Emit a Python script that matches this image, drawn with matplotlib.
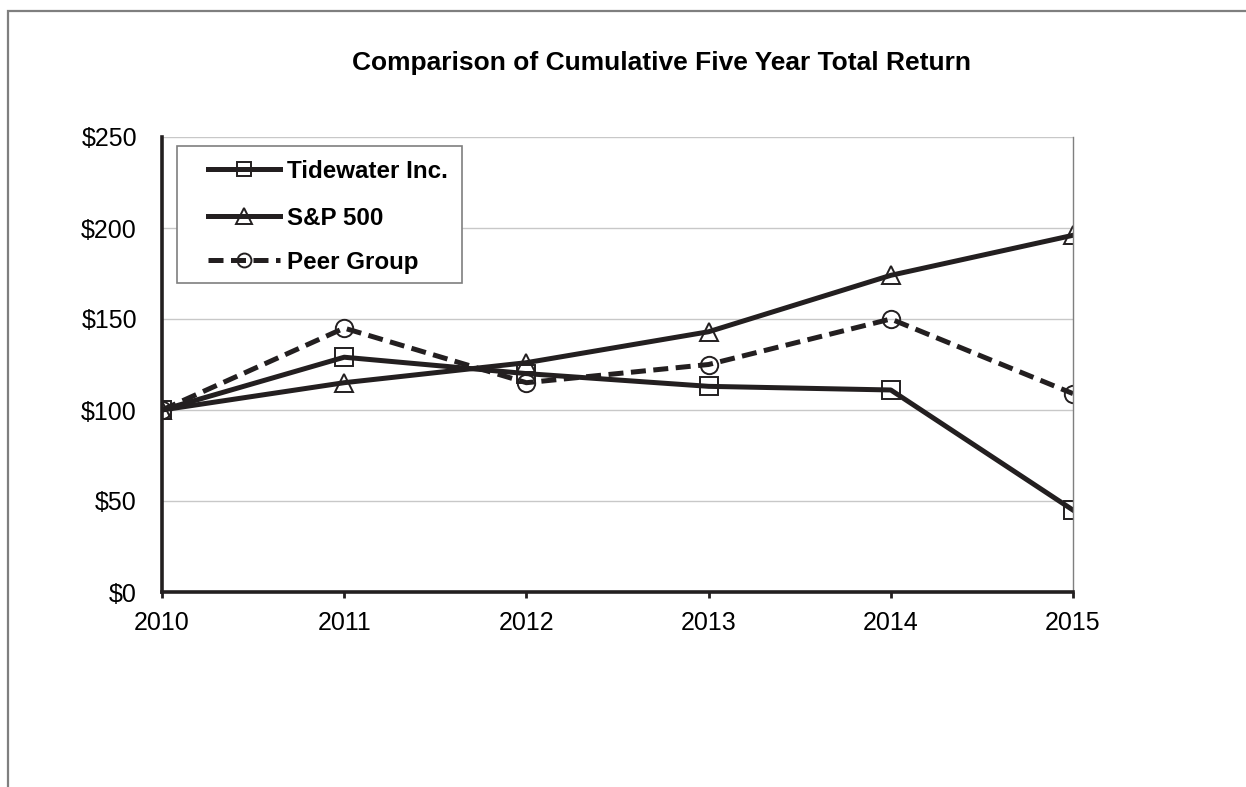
import matplotlib
matplotlib.use("Agg")
import matplotlib.pyplot as plt
from matplotlib.patches import Rectangle
from matplotlib.lines import Line2D

plt.rcParams['font.family'] = ['Liberation Sans', 'DejaVu Sans']

# data
years = [2010, 2011, 2012, 2013, 2014, 2015]
tidewater = [100, 129, 120, 113, 111, 45]
sp500 = [100, 115, 126, 143, 174, 196]
peer_group = [100, 145, 115, 125, 150, 109]
y_ticks = [0, 50, 100, 150, 200, 250]
y_labels = ['$' + str(v) for v in y_ticks]
series_names = ['Tidewater Inc.', 'S&P 500', 'Peer Group']

ink = '#231f20'
W, H = 1246.0, 787.0


def fx(px):
    return px / W


def fy(py):
    return 1 - py / H


fig = plt.figure(figsize=(12.46, 7.87), dpi=100)

# outer grey frame (only left and top visible in the reference)
fig.patches.append(Rectangle((fx(8), -0.05), 1.2, fy(11) + 0.05,
                             transform=fig.transFigure, fill=False,
                             edgecolor='#7f7f7f', linewidth=1.6))

ax = fig.add_axes([fx(162), fy(592), fx(1073) - fx(162), fy(137) - fy(592)])

styles = [dict(marker='s', ms=12.5), dict(marker='^', ms=13.5), dict(marker='o', ms=12.5, dashes=(3, 1.5))]
for vals, name, st in zip([tidewater, sp500, peer_group], series_names, styles):
    ax.plot(years, vals, color=ink, lw=3.6, mfc='none', mec=ink, mew=1.4,
            label=name, zorder=4, **st)

ax.set_xlim(2010, 2015)
ax.set_ylim(0, 250)
ax.set_xticks(years)
ax.set_xticklabels([str(y) for y in years])
ax.set_yticks(y_ticks)
ax.set_yticklabels(y_labels)
ax.yaxis.grid(True, color='#c8c8c8', lw=1)
ax.set_axisbelow(True)

ax.tick_params(axis='x', direction='out', length=4, width=2, color=ink,
               labelsize=18, pad=10)
ax.tick_params(axis='y', length=0, labelsize=18, pad=18)

ax.spines['top'].set_visible(False)
ax.spines['right'].set_color('#7f7f7f')
ax.spines['right'].set_linewidth(1)
for side in ['left', 'bottom']:
    ax.spines[side].set_color(ink)
    ax.spines[side].set_linewidth(2.6)
for s in ax.spines.values():
    s.set_zorder(5)

fig.text(fx(662), fy(70), 'Comparison of Cumulative Five Year Total Return',
         ha='center', va='baseline', fontsize=19, fontweight='bold')

# legend drawn by hand so the box matches the reference
fig.patches.append(Rectangle((fx(177), fy(283)), fx(462) - fx(177), fy(146) - fy(283),
                             transform=fig.transFigure, fill=True, facecolor='white',
                             edgecolor='#7f7f7f', linewidth=1.2, zorder=6))
row_y = [169, 216, 260]
for name, st, ry in zip(series_names, styles, row_y):
    st = dict(st)
    ms = st.pop('ms')
    mk = st.pop('marker')
    fig.add_artist(Line2D([fx(208), fx(280)], [fy(ry), fy(ry)], color=ink, lw=3.6,
                          transform=fig.transFigure, zorder=7, **st))
    fig.add_artist(Line2D([fx(244)], [fy(ry)], marker=mk, ms=ms - 2.5, mfc='none', mec=ink,
                          mew=1.4, ls='none', transform=fig.transFigure, zorder=8))
    fig.text(fx(287), fy(ry), name, ha='left', va='center_baseline', fontsize=17.4,
             fontweight='bold', zorder=8)

fig.savefig('out.png', dpi=100)
